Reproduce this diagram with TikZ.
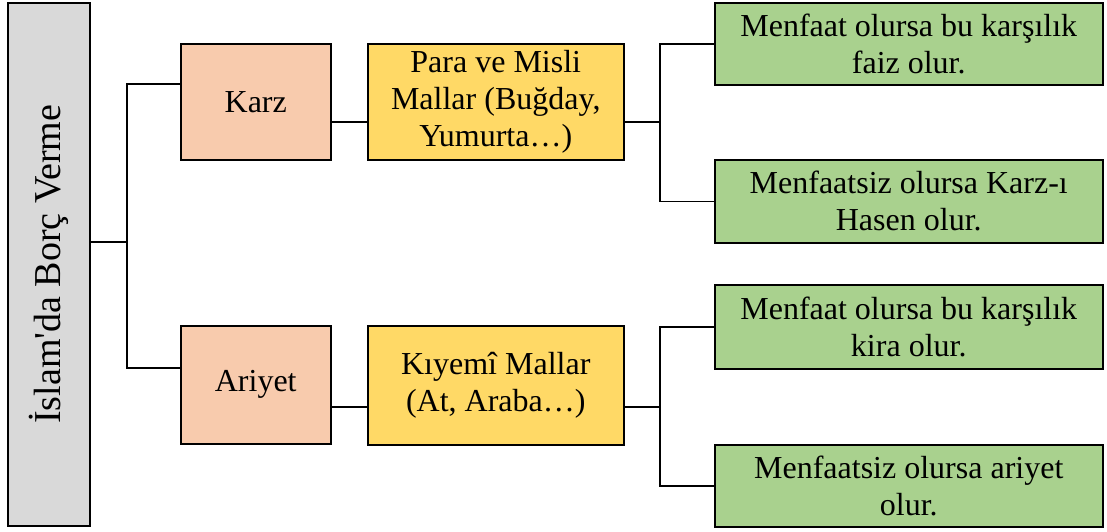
\documentclass[tikz,border=0pt]{standalone}
\usepackage{fontspec}
\setmainfont{Liberation Serif}
\definecolor{rootgray}{HTML}{D9D9D9}
\definecolor{salmon}{HTML}{F8CBAD}
\definecolor{gold}{HTML}{FFD966}
\definecolor{leaf}{HTML}{A9D18E}
\tikzset{
  box/.style={draw=black, line width=1.5pt, rectangle, inner sep=0pt, anchor=north west, align=center,
    font=\fontsize{32}{37}\selectfont},
  link/.style={draw=black, line width=1.5pt},
}
\begin{document}
\begin{tikzpicture}[x=1pt,y=-1pt]
\useasboundingbox (0,0) rectangle (1107,531);
\node[box, fill=rootgray, minimum width=82pt, minimum height=523pt, font=\fontsize{38}{44}\selectfont] (root) at (7,2) {\rotatebox{90}{İslam\textquotesingle da Borç Verme}};
\node[box, fill=salmon, minimum width=150pt, minimum height=116pt] (karz) at (180,43) {Karz};
\node[box, fill=salmon, minimum width=150pt, minimum height=118pt] (ariyet) at (180,325) {Ariyet};
\node[box, fill=gold, minimum width=256pt, minimum height=116pt] (y1) at (367,43) {Para ve Misli\\Mallar (Buğday,\\Yumurta…)};
\node[box, fill=gold, minimum width=256pt, minimum height=119pt] (y2) at (367,325) {Kıyemî Mallar\\(At, Araba…)};
\node[box, fill=leaf, minimum width=388pt, minimum height=82pt] (g1) at (714,2) {Menfaat olursa bu karşılık\\faiz olur.};
\node[box, fill=leaf, minimum width=388pt, minimum height=83pt] (g2) at (714,159) {Menfaatsiz olursa Karz-ı\\Hasen olur.};
\node[box, fill=leaf, minimum width=388pt, minimum height=84pt] (g3) at (714,284) {Menfaat olursa bu karşılık\\kira olur.};
\node[box, fill=leaf, minimum width=388pt, minimum height=82pt] (g4) at (714,444) {Menfaatsiz olursa ariyet\\olur.};
% junction coordinates
\coordinate (j0) at (127,242);
\coordinate (ktop) at (0,84);
\coordinate (abot) at (0,368);
\coordinate (kline) at (0,122);
\coordinate (aline) at (0,407);
\coordinate (j1) at (660,122);
\coordinate (j2) at (660,407);
% connectors
\draw[link] (root.east |- j0) -- (j0);
\draw[link] (karz.west |- ktop) -| (j0) |- (ariyet.west |- abot);
\draw[link] (karz.east |- kline) -- (y1.west |- kline);
\draw[link] (ariyet.east |- aline) -- (y2.west |- aline);
\draw[link] (y1.east |- j1) -- (j1);
\draw[link] (g1.west) -| (j1) |- (g2.west);
\draw[link] (y2.east |- j2) -- (j2);
\draw[link] (g3.west) -| (j2) |- (g4.west);
\end{tikzpicture}
\end{document}
